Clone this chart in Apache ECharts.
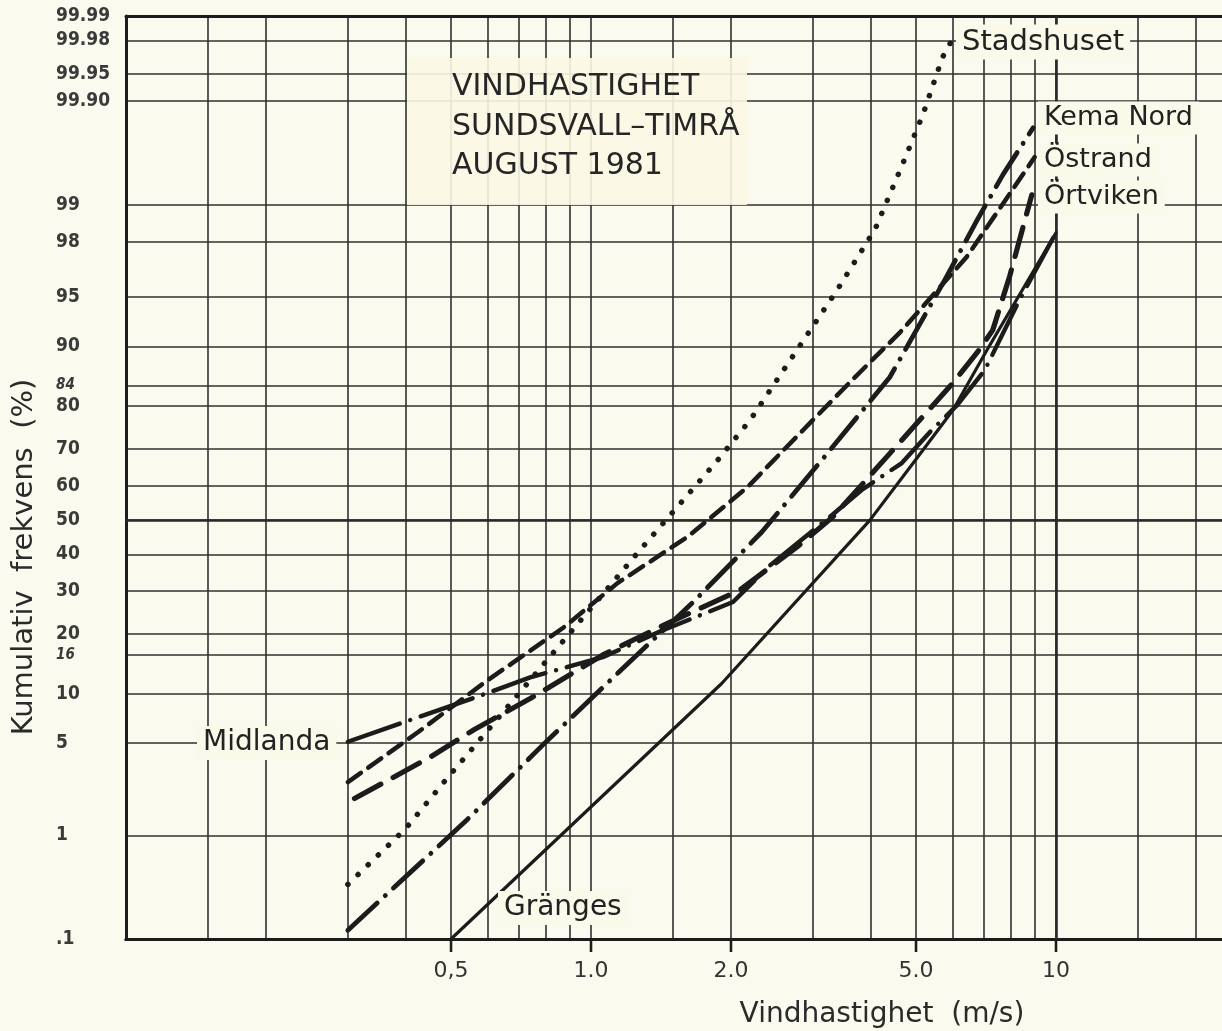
<!DOCTYPE html>
<html><head><meta charset="utf-8">
<script src="https://cdn.jsdelivr.net/npm/echarts@6/dist/echarts.min.js"></script>
<style>html,body{margin:0;padding:0;background:#fbfaef}#c{width:1222px;height:1031px}</style>
</head><body><div id="c"></div>
<script>
// ---- axis ticks ----
const xGridValues = [0.1,0.15,0.2,0.3,0.4,0.5,0.6,0.7,0.8,0.9,1,1.5,2,3,4,5,6,7,8,9,10,15,20];
const xTickValues = [0.5,1,2,5,10];
const xTickLabels = ['0,5','1.0','2.0','5.0','10'];
const yTickValues = [0.1,1,5,10,16,20,30,40,50,60,70,80,84,90,95,98,99,99.9,99.95,99.98,99.99];
const yTickLabels = ['.1','1','5','10','16','20','30','40','50','60','70','80','84','90','95','98','99','99.90','99.95','99.98','99.99'];

// ---- series (wind speed m/s, cumulative %) ----
const stadshusetSpeed = [0.30, 0.40, 0.48, 0.575, 1.27, 1.87, 2.2, 2.7, 3.38, 4.08, 4.64, 5.17, 5.7, 5.97];
const stadshusetPct   = [0.36, 1.15, 2.6, 5.2, 41, 67, 77, 88.4, 95.5, 98.4, 99.53, 99.86, 99.968, 99.98];
const kemaNordSpeed = [0.30, 0.54, 0.79, 1.14, 1.66, 2.33, 3.23, 4.39, 5.77, 6.77, 7.69, 8.93];
const kemaNordPct   = [0.124, 1.34, 4.9, 12.9, 27.3, 46.5, 69, 85.4, 96.2, 98.66, 99.46, 99.81];
const ostrandSpeed = [0.30, 0.425, 0.60, 0.87, 1.14, 1.61, 2.17, 2.86, 3.64, 4.62, 6.43, 9.0];
const ostrandPct   = [2.66, 5.9, 11.9, 21.3, 32.1, 45, 59.6, 74.7, 84.9, 91.7, 97.4, 99.63];
const ortvikenSpeed = [0.31, 0.45, 0.56, 0.74, 1.06, 1.48, 2.09, 2.77, 3.31, 4.08, 6.0, 6.77, 7.31, 7.95, 8.87];
const ortvikenPct   = [2.0, 4.0, 6.1, 9.4, 16.0, 22.6, 30.3, 42.1, 50.9, 64.4, 84.4, 89.2, 91.95, 96.4, 99.18];
const midlandaSpeed = [0.30, 0.39, 0.58, 0.74, 1.06, 1.41, 2.02, 2.43, 3.30, 3.82, 4.66, 5.41, 6.13, 7.03, 8.35, 10];
const midlandaPct   = [5.1, 6.7, 9.8, 12.3, 15.6, 20.6, 27.3, 37, 51.5, 58.8, 66.3, 74.7, 80.2, 86.6, 94.8, 98.3];
const grangesSpeed = [0.5, 1.91, 3.98, 5.02, 6.0, 7.1, 10];
const grangesPct   = [0.1, 11.4, 50, 67.6, 79.1, 89.5, 98.3];

// inverse normal CDF (probability paper scale)
function probit(p){
  const a=[-3.969683028665376e+01,2.209460984245205e+02,-2.759285104469687e+02,1.383577518672690e+02,-3.066479806614716e+01,2.506628277459239e+00];
  const b=[-5.447609879822406e+01,1.615858368580409e+02,-1.556989798598866e+02,6.680131188771972e+01,-1.328068155288572e+01];
  const c=[-7.784894002430293e-03,-3.223964580411365e-01,-2.400758277161838e+00,-2.549732539343734e+00,4.374664141464968e+00,2.938163982698783e+00];
  const d=[7.784695709041462e-03,3.224671290700398e-01,2.445134137142996e+00,3.754408661907416e+00];
  const pl=0.02425, ph=1-pl; let q,r;
  if(p<pl){q=Math.sqrt(-2*Math.log(p));return (((((c[0]*q+c[1])*q+c[2])*q+c[3])*q+c[4])*q+c[5])/((((d[0]*q+d[1])*q+d[2])*q+d[3])*q+1);}
  if(p<=ph){q=p-0.5;r=q*q;return (((((a[0]*r+a[1])*r+a[2])*r+a[3])*r+a[4])*r+a[5])*q/(((((b[0]*r+b[1])*r+b[2])*r+b[3])*r+b[4])*r+1);}
  q=Math.sqrt(-2*Math.log(1-p));return -(((((c[0]*q+c[1])*q+c[2])*q+c[3])*q+c[4])*q+c[5])/((((d[0]*q+d[1])*q+d[2])*q+d[3])*q+1);
}
const yVals = yTickValues.map(v=>probit(v/100));
const yMin = yVals[0], yMax = yVals[yVals.length-1];
const xGrid = xGridValues.map(v=>Math.log10(v));
const xTicks = xTickValues.map(v=>Math.log10(v));
const xMin = -1, xMax = Math.log10(22.75);

function nearestIdx(arr, v){let bi=0,bd=Infinity;arr.forEach((a,i)=>{const d=Math.abs(a-v);if(d<bd){bd=d;bi=i;}});return bi;}

const INK = '#1c1c1c';
function mk(name, speeds, pcts, type, width, extra){
  return Object.assign({
    type:'line', name, xAxisIndex:0, yAxisIndex:0, silent:true, animation:false,
    showSymbol:false, symbol:'none', z:5,
    data: speeds.map((s,i)=>[Math.log10(s), probit(pcts[i]/100)]),
    lineStyle:{color:INK, width, type, cap:'round', join:'round'}
  }, extra||{});
}

const chart = echarts.init(document.getElementById('c'), null, {renderer:'canvas'});
const labFont = '"DejaVu Sans Condensed","DejaVu Sans",sans-serif';
const txtFont = '"DejaVu Sans",sans-serif';
const gridLine = {color:'#303030', width:1.6};
function lbl(text, x, y, size){
  return {type:'text', z:11, x, y, style:{text, font:size+'px '+txtFont, fill:'#222', backgroundColor:'#fbf9ea', padding:[3,6,3,6], textVerticalAlign:'middle', verticalAlign:'middle'}};
}
chart.setOption({
  backgroundColor:'#fbfaef',
  animation:false,
  grid:{left:126, right:0, top:16, bottom:92, containLabel:false},
  xAxis:[
    {type:'value', min:xMin, max:xMax, position:'bottom',
     axisLine:{show:true, onZero:false, lineStyle:{color:INK, width:3}},
     axisTick:{show:false, customValues:xGrid},
     axisLabel:{show:false},
     splitLine:{show:true, lineStyle:gridLine}},
    {type:'value', min:xMin, max:xMax, position:'bottom',
     axisLine:{show:true, onZero:false, lineStyle:{color:INK, width:3}},
     axisTick:{show:true, inside:false, customValues:xTicks, length:13, lineStyle:{color:INK, width:2.2}},
     axisLabel:{show:true, customValues:xTicks, margin:21, fontSize:22, color:'#333', fontFamily:txtFont,
       formatter:v=>xTickLabels[nearestIdx(xTicks, v)]},
     splitLine:{show:false}},
    {type:'value', min:xMin, max:xMax, position:'top',
     axisLine:{show:true, onZero:false, lineStyle:{color:INK, width:3}},
     axisTick:{show:false}, axisLabel:{show:false}, splitLine:{show:false}}
  ],
  yAxis:[
    {type:'value', min:yMin, max:yMax,
     axisLine:{show:true, onZero:false, lineStyle:{color:INK, width:3}},
     axisTick:{show:false, customValues:yVals},
     axisLabel:{show:true, customValues:yVals, align:'left', margin:70, fontSize:19, fontWeight:'bold', color:'#3a3a3a', fontFamily:labFont,
       formatter:v=>{const i=nearestIdx(yVals, v); const t=yTickLabels[i]; return (t==='84'||t==='16')?'{s|'+t+'}':t;},
       rich:{s:{fontSize:15, fontStyle:'italic', fontWeight:'bold', color:'#3a3a3a', fontFamily:labFont}}},
     splitLine:{show:true, lineStyle:gridLine}}
  ],
  series:[
    mk('Stadshuset', stadshusetSpeed, stadshusetPct, [0.1, 14], 5.5),
    mk('Kema Nord', kemaNordSpeed, kemaNordPct, [40, 11, 0.1, 11], 4.8),
    mk('Östrand', ostrandSpeed, ostrandPct, [16, 9], 4.5),
    mk('Örtviken', ortvikenSpeed, ortvikenPct, [30, 14], 5.2),
    mk('Midlanda', midlandaSpeed, midlandaPct, [55, 11, 0.1, 11], 4.4),
    mk('Gränges', grangesSpeed, grangesPct, 'solid', 3.2, {
      markLine:{silent:true, symbol:'none', animation:false, label:{show:false},
        lineStyle:{color:'#2a2a2a', width:2.6, type:'solid'},
        data:[{yAxis:0},{xAxis:1}]}
    })
  ]
});

// tick marks below the bottom axis, placed through the axis scale
const yBottom = chart.convertToPixel({yAxisIndex:0}, yMin);
const tickEls = xTicks.map(t=>{
  const px = chart.convertToPixel({xAxisIndex:0}, t);
  return {type:'line', z:12, silent:true, shape:{x1:px, y1:yBottom, x2:px, y2:yBottom+13}, style:{stroke:INK, lineWidth:2.4}};
});

chart.setOption({
  graphic:[
    {type:'rect', z:10, shape:{x:407, y:58, width:340, height:147}, style:{fill:'rgba(251,248,228,0.9)'}},
    {type:'text', z:11, x:452, y:87, style:{text:'VINDHASTIGHET', font:'30px '+txtFont, fill:'#262626', textVerticalAlign:'middle', verticalAlign:'middle'}},
    {type:'text', z:11, x:452, y:127, style:{text:'SUNDSVALL\u2013TIMRÅ', font:'30px '+txtFont, fill:'#262626', textVerticalAlign:'middle', verticalAlign:'middle'}},
    {type:'text', z:11, x:452, y:166, style:{text:'AUGUST 1981', font:'30px '+txtFont, fill:'#262626', textVerticalAlign:'middle', verticalAlign:'middle'}},
    lbl('Stadshuset', 956, 42, 29),
    lbl('Kema Nord', 1038, 118, 27),
    lbl('Östrand', 1038, 160, 27),
    lbl('Örtviken', 1038, 197, 27),
    lbl('Midlanda', 197, 743, 28),
    lbl('Gränges', 498, 908, 28),
    {type:'text', z:11, x:24, y:557, rotation:Math.PI/2, style:{text:'Kumulativ  frekvens  (%)', font:'29px '+txtFont, fill:'#2a2a2a', textAlign:'center', align:'center', textVerticalAlign:'middle', verticalAlign:'middle'}},
    {type:'text', z:11, x:882, y:1015, style:{text:'Vindhastighet  (m/s)', font:'28px '+txtFont, fill:'#2a2a2a', textAlign:'center', align:'center', textVerticalAlign:'middle', verticalAlign:'middle'}}
  ].concat(tickEls)
});
</script></body></html>
